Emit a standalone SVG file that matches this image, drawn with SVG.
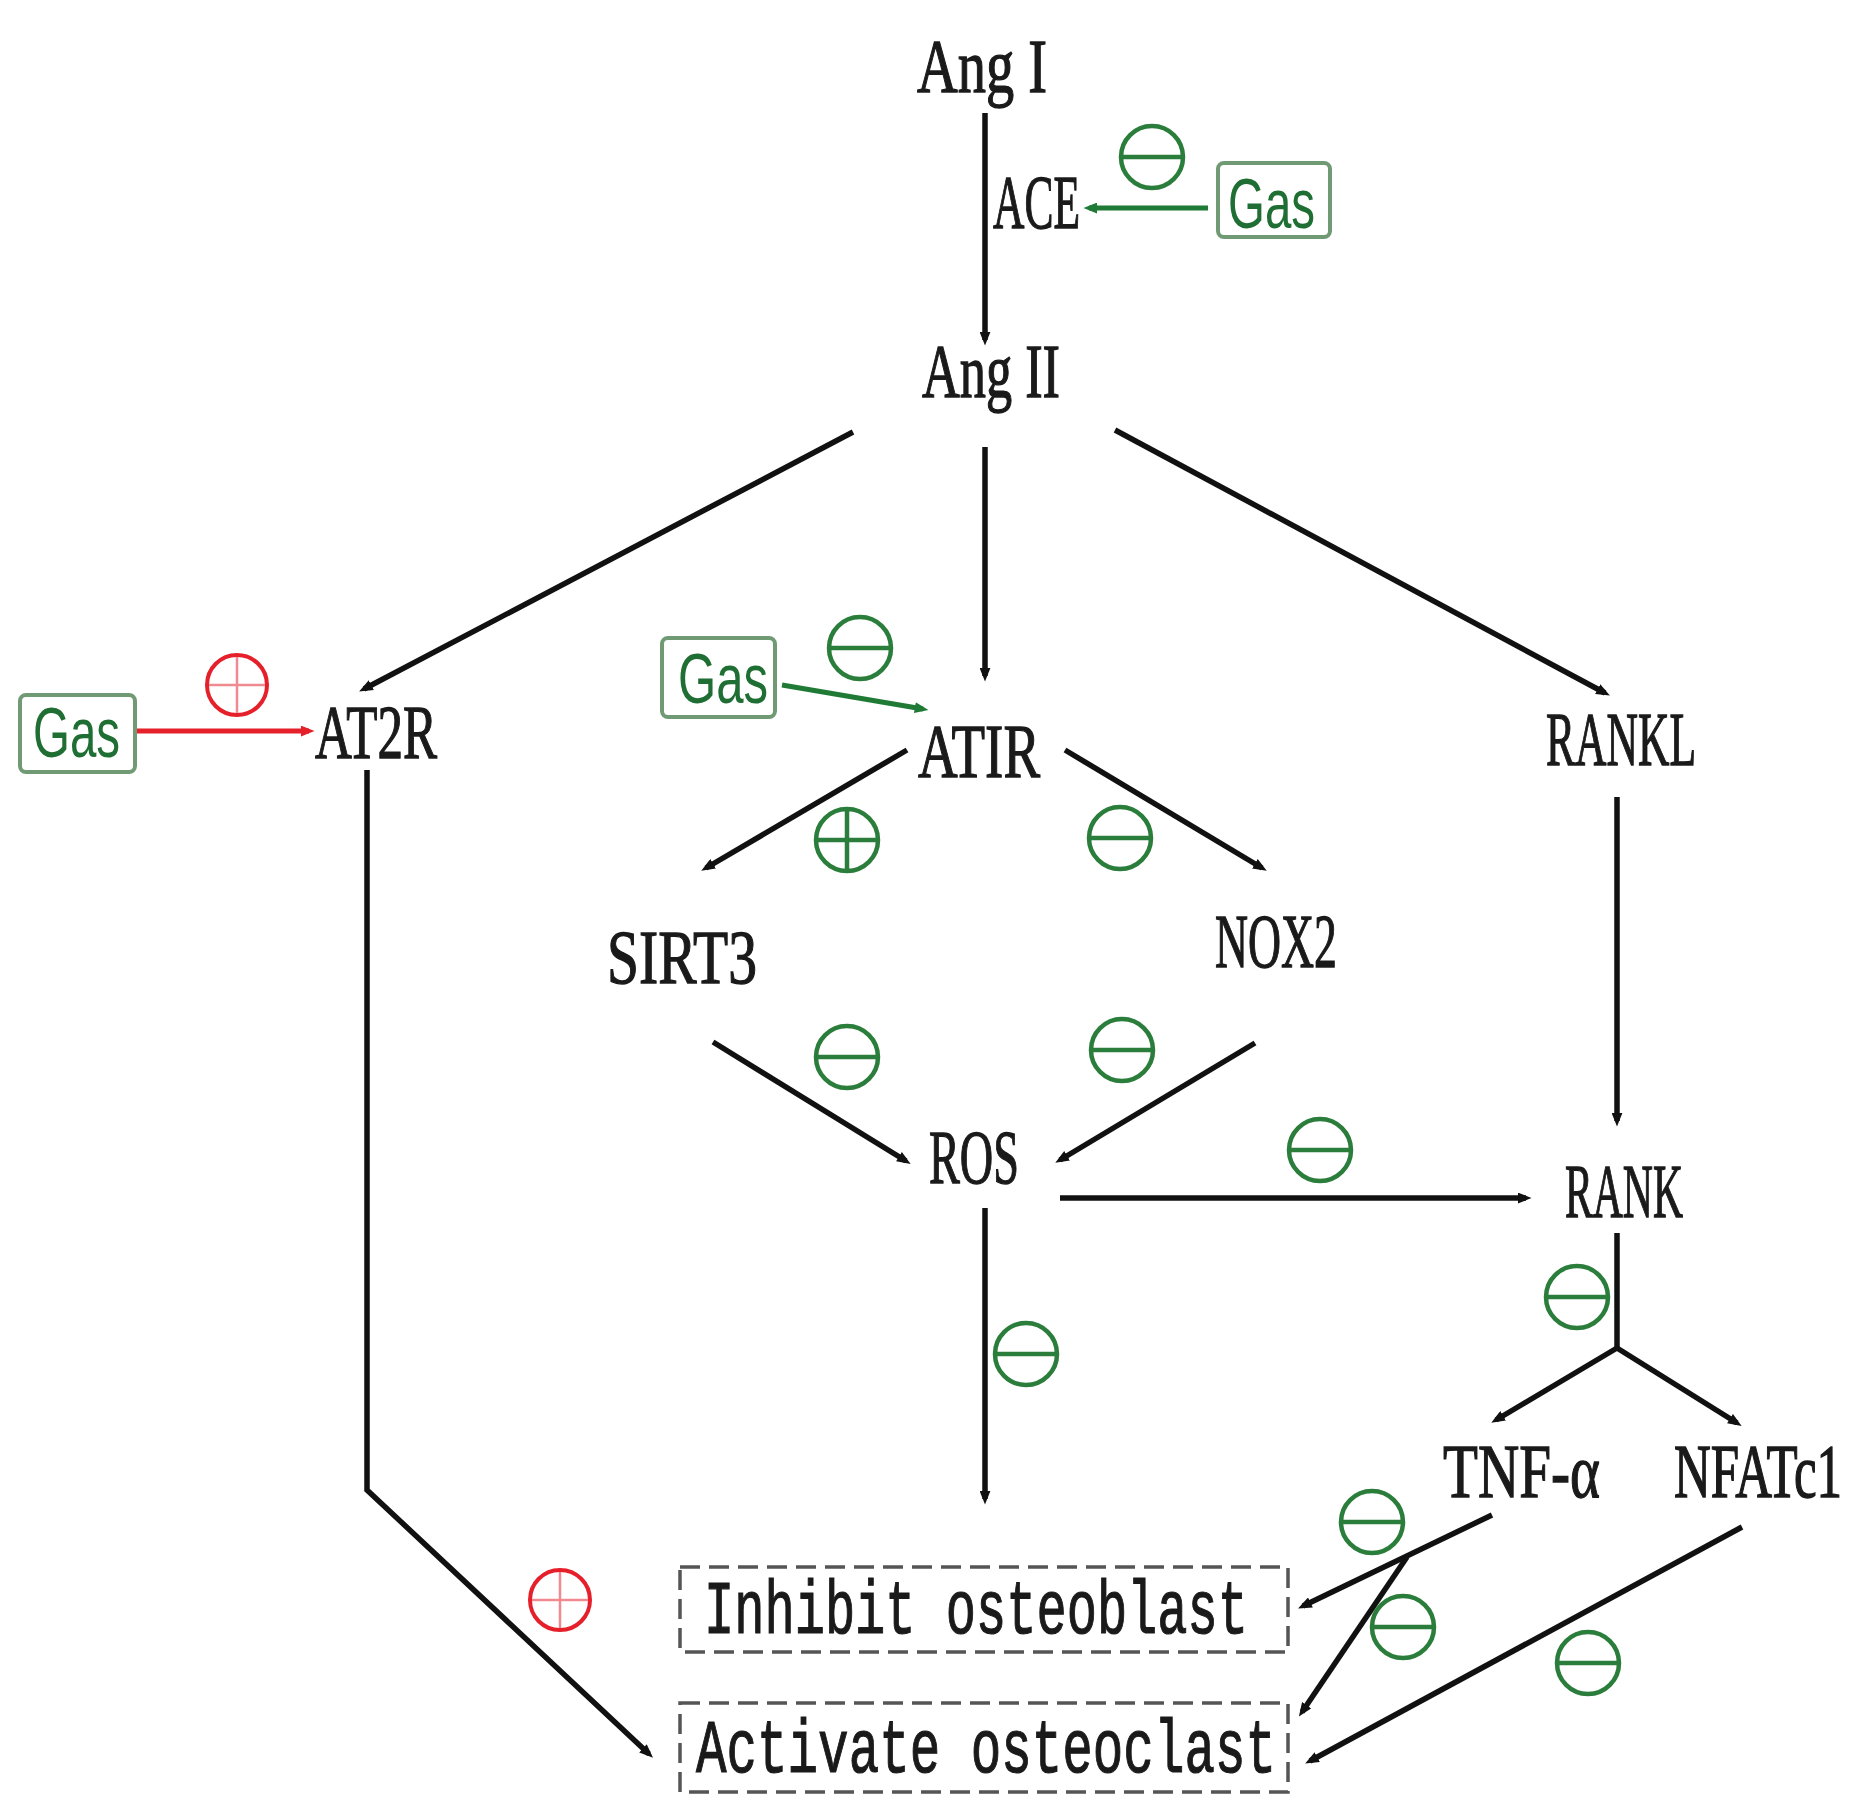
<svg xmlns="http://www.w3.org/2000/svg" width="1871" height="1811" viewBox="0 0 1871 1811">
<style>
.lbl{font-family:"Liberation Serif","DejaVu Serif",serif;font-size:76px;fill:#1a1a1a;stroke:#1a1a1a;stroke-width:1.3}
.box{font-family:"Liberation Mono","DejaVu Sans Mono",monospace;font-size:76px;fill:#1a1a1a;stroke:#1a1a1a;stroke-width:1.2}
.gas{font-family:"Liberation Sans","DejaVu Sans",sans-serif;font-size:70px;fill:#1f6e33}
.gasbox{fill:#fff;stroke:#6f9a74;stroke-width:4}
.dbox{fill:none;stroke:#555;stroke-width:3.5;stroke-dasharray:20 9}
.k{stroke:#111;stroke-width:5.5;fill:none}
.g{stroke:#1f7a35;stroke-width:5;fill:none}
.r{stroke:#e5202a;stroke-width:5;fill:none}
.sg{fill:none;stroke:#2a7d3a;stroke-width:4.5}
.sr{fill:none;stroke:#e5202a;stroke-width:4}
.srx{stroke:#f08a90;stroke-width:2.5}
</style>
<defs>
<marker id="ak" viewBox="0 0 10 8" refX="6" refY="4" markerWidth="14" markerHeight="11" markerUnits="userSpaceOnUse" orient="auto"><path d="M0,0 L10,4 L0,8 z" fill="#111"/></marker>
<marker id="ag" viewBox="0 0 10 8" refX="6" refY="4" markerWidth="14" markerHeight="11" markerUnits="userSpaceOnUse" orient="auto"><path d="M0,0 L10,4 L0,8 z" fill="#1f7a35"/></marker>
<marker id="ar" viewBox="0 0 10 8" refX="6" refY="4" markerWidth="14" markerHeight="11" markerUnits="userSpaceOnUse" orient="auto"><path d="M0,0 L10,4 L0,8 z" fill="#e5202a"/></marker>
</defs>
<rect width="1871" height="1811" fill="#fff"/>

<g id="connectors">
<line class="k" x1="985" y1="113" x2="985" y2="340" marker-end="url(#ak)"/>
<line class="k" x1="853" y1="432" x2="364" y2="689" marker-end="url(#ak)"/>
<line class="k" x1="985" y1="447" x2="985" y2="676" marker-end="url(#ak)"/>
<line class="k" x1="1115" y1="430" x2="1605" y2="693" marker-end="url(#ak)"/>
<line class="k" x1="907" y1="750" x2="706" y2="868" marker-end="url(#ak)"/>
<line class="k" x1="1065" y1="750" x2="1262" y2="868" marker-end="url(#ak)"/>
<line class="k" x1="713" y1="1042" x2="906" y2="1161" marker-end="url(#ak)"/>
<line class="k" x1="1255" y1="1043" x2="1060" y2="1160" marker-end="url(#ak)"/>
<line class="k" x1="1060" y1="1198" x2="1526" y2="1198" marker-end="url(#ak)"/>
<line class="k" x1="985" y1="1208" x2="985" y2="1499" marker-end="url(#ak)"/>
<line class="k" x1="1617" y1="797" x2="1617" y2="1121" marker-end="url(#ak)"/>
<polyline class="k" points="1617,1233 1617,1348"/>
<line class="k" x1="1617" y1="1348" x2="1496" y2="1420" marker-end="url(#ak)"/>
<line class="k" x1="1617" y1="1348" x2="1737" y2="1423" marker-end="url(#ak)"/>
<polyline class="k" points="367,770 367,1490 649,1754" marker-end="url(#ak)"/>
<line class="k" x1="1492" y1="1515" x2="1303" y2="1606" marker-end="url(#ak)"/>
<line class="k" x1="1407" y1="1557" x2="1302" y2="1712" marker-end="url(#ak)"/>
<line class="k" x1="1742" y1="1527" x2="1310" y2="1761" marker-end="url(#ak)"/>
<line class="g" x1="1208" y1="208" x2="1089" y2="208" marker-end="url(#ag)"/>
<line class="g" x1="782" y1="685" x2="923" y2="709" marker-end="url(#ag)"/>
<line class="r" x1="135" y1="731" x2="309" y2="731" marker-end="url(#ar)"/>
</g>

<g id="signs">
<g class="sg"><circle cx="1152" cy="157" r="31"/><line x1="1121" y1="157" x2="1183" y2="157"/></g>
<g class="sg"><circle cx="860" cy="648" r="31"/><line x1="829" y1="648" x2="891" y2="648"/></g>
<g class="sg"><circle cx="1120" cy="838" r="31"/><line x1="1089" y1="838" x2="1151" y2="838"/></g>
<g class="sg"><circle cx="847" cy="1057" r="31"/><line x1="816" y1="1057" x2="878" y2="1057"/></g>
<g class="sg"><circle cx="1122" cy="1050" r="31"/><line x1="1091" y1="1050" x2="1153" y2="1050"/></g>
<g class="sg"><circle cx="1320" cy="1150" r="31"/><line x1="1289" y1="1150" x2="1351" y2="1150"/></g>
<g class="sg"><circle cx="1026" cy="1354" r="31"/><line x1="995" y1="1354" x2="1057" y2="1354"/></g>
<g class="sg"><circle cx="1577" cy="1297" r="31"/><line x1="1546" y1="1297" x2="1608" y2="1297"/></g>
<g class="sg"><circle cx="1372" cy="1522" r="31"/><line x1="1341" y1="1522" x2="1403" y2="1522"/></g>
<g class="sg"><circle cx="1403" cy="1627" r="31"/><line x1="1372" y1="1627" x2="1434" y2="1627"/></g>
<g class="sg"><circle cx="1588" cy="1663" r="31"/><line x1="1557" y1="1663" x2="1619" y2="1663"/></g>
<g class="sg"><circle cx="847" cy="840" r="31"/><line x1="816" y1="840" x2="878" y2="840"/><line x1="847" y1="809" x2="847" y2="871"/></g>
<g><circle class="sr" cx="237" cy="685" r="30"/><line class="srx" x1="209" y1="685" x2="265" y2="685"/><line class="srx" x1="237" y1="657" x2="237" y2="713"/></g>
<g><circle class="sr" cx="560" cy="1600" r="30"/><line class="srx" x1="532" y1="1600" x2="588" y2="1600"/><line class="srx" x1="560" y1="1572" x2="560" y2="1628"/></g>
</g>

<g id="n-angI"><text class="lbl" x="917" y="92" textLength="130" lengthAdjust="spacingAndGlyphs">Ang I</text></g>
<g id="n-ace"><text class="lbl" x="993" y="228" textLength="87" lengthAdjust="spacingAndGlyphs">ACE</text></g>
<g id="n-gas1"><rect class="gasbox" x="1218" y="163" width="112" height="74" rx="6"/><text class="gas" x="1228" y="228" textLength="87" lengthAdjust="spacingAndGlyphs">Gas</text></g>
<g id="n-angII"><text class="lbl" x="922" y="397" textLength="138" lengthAdjust="spacingAndGlyphs">Ang II</text></g>
<g id="n-gas2"><rect class="gasbox" x="20" y="695" width="115" height="77" rx="6"/><text class="gas" x="33" y="757" textLength="87" lengthAdjust="spacingAndGlyphs">Gas</text></g>
<g id="n-at2r"><text class="lbl" x="315" y="758" textLength="122" lengthAdjust="spacingAndGlyphs">AT2R</text></g>
<g id="n-gas3"><rect class="gasbox" x="662" y="638" width="113" height="79" rx="6"/><text class="gas" x="678" y="703" textLength="90" lengthAdjust="spacingAndGlyphs">Gas</text></g>
<g id="n-atir"><text class="lbl" x="918" y="777" textLength="122" lengthAdjust="spacingAndGlyphs">ATIR</text></g>
<g id="n-rankl"><text class="lbl" x="1546" y="765" textLength="150" lengthAdjust="spacingAndGlyphs">RANKL</text></g>
<g id="n-sirt3"><text class="lbl" x="607" y="983" textLength="150" lengthAdjust="spacingAndGlyphs">SIRT3</text></g>
<g id="n-nox2"><text class="lbl" x="1215" y="967" textLength="122" lengthAdjust="spacingAndGlyphs">NOX2</text></g>
<g id="n-ros"><text class="lbl" x="929" y="1183" textLength="90" lengthAdjust="spacingAndGlyphs">ROS</text></g>
<g id="n-rank"><text class="lbl" x="1565" y="1217" textLength="118" lengthAdjust="spacingAndGlyphs">RANK</text></g>
<g id="n-tnf"><text class="lbl" x="1443" y="1497" textLength="157" lengthAdjust="spacingAndGlyphs">TNF-α</text></g>
<g id="n-nfatc1"><text class="lbl" transform="translate(1674,1497) scale(1,1.6)" x="0" y="0" style="font-size:47.5px;stroke-width:0.9" textLength="168" lengthAdjust="spacingAndGlyphs">NFATc1</text></g>
<g id="n-inhibit"><rect class="dbox" x="680" y="1567" width="608" height="85"/><text class="box" x="704" y="1633" textLength="544" lengthAdjust="spacingAndGlyphs">Inhibit osteoblast</text></g>
<g id="n-activate"><rect class="dbox" x="680" y="1703" width="608" height="89"/><text class="box" x="696" y="1772" textLength="580" lengthAdjust="spacingAndGlyphs">Activate osteoclast</text></g>
</svg>
